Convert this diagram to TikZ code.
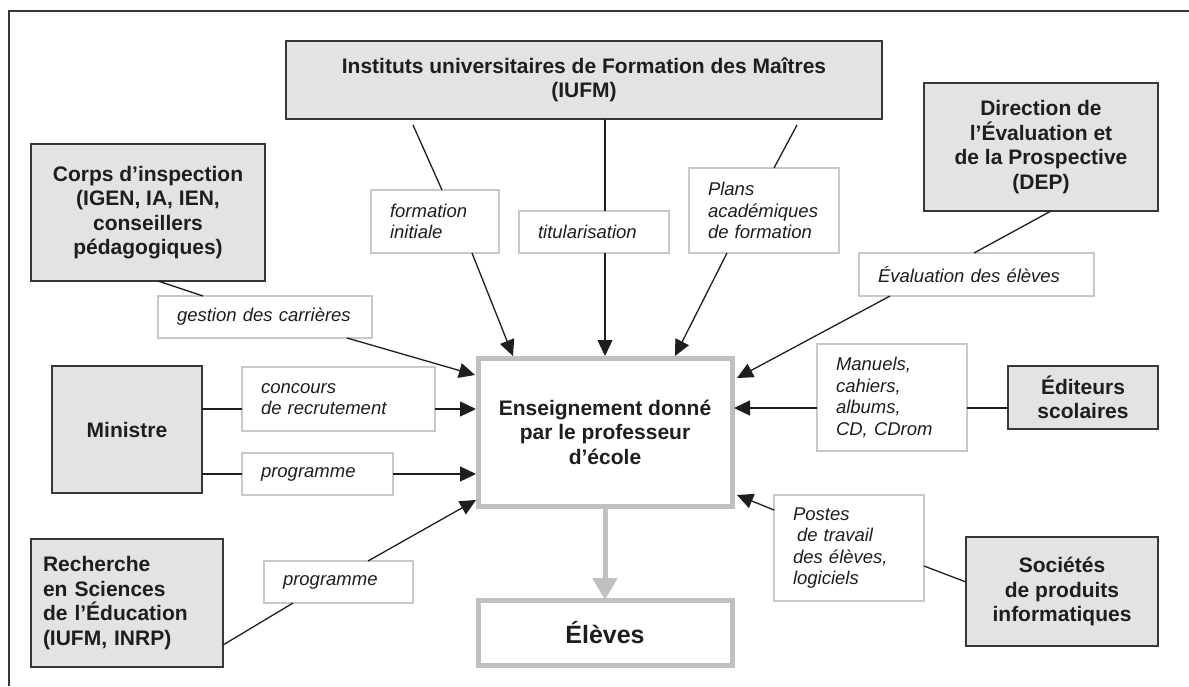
\documentclass[tikz,border=0pt]{standalone}
\usepackage{fontspec}
\setmainfont{Liberation Sans}
\usetikzlibrary{arrows.meta,calc}

\definecolor{boxgray}{RGB}{226,227,229}
\definecolor{edgegray}{RGB}{192,192,192}
\definecolor{tagedge}{RGB}{200,200,200}
\definecolor{framegray}{RGB}{55,55,55}
\definecolor{inkgray}{RGB}{30,30,30}

\begin{document}
\begin{tikzpicture}[x=1pt,y=-1pt,
	source/.style={draw=framegray,line width=1.6pt,fill=boxgray,text=inkgray,font=\bfseries\fontsize{21}{24.5}\selectfont,align=center,inner sep=0pt,outer sep=0pt},
	tag/.style={draw=tagedge,line width=1.4pt,fill=white,text=inkgray,font=\itshape\fontsize{18.5}{21.5}\selectfont,align=left,inner xsep=19pt,inner ysep=0pt,outer sep=0pt},
	core/.style={draw=edgegray,line width=5pt,fill=white,text=inkgray,font=\bfseries\fontsize{21}{24.5}\selectfont,align=center,inner sep=0pt,outer sep=0pt},
	link/.style={draw=inkgray,line width=1.3pt},
	feed/.style={link,-{Triangle[length=16pt,width=15pt]}}]
	\useasboundingbox (0,0) rectangle (1189,686);
	\draw [framegray,line width=1.5pt] (9,686) -- (9,11) -- (1189,11);

	\node [source,minimum width=596pt,minimum height=78pt] (iufm) at (584,80) {Instituts universitaires de Formation des Maîtres\\(IUFM)};
	\node [source,minimum width=234pt,minimum height=128pt] (dep) at (1041,147) {Direction de\\l’Évaluation et\\de la Prospective\\(DEP)};
	\node [source,minimum width=234pt,minimum height=137pt] (corps) at (148,212.5) {Corps d’inspection\\(IGEN, IA, IEN,\\conseillers\\pédagogiques)};
	\node [source,minimum width=150pt,minimum height=127pt] (ministre) at (127,429.5) {Ministre};
	\node [source,align=left,text width=168pt,inner xsep=12pt,minimum height=128pt] (recherche) at (127,603) {Recherche\\en Sciences\\de l’Éducation\\(IUFM, INRP)};
	\node [source,minimum width=150pt,minimum height=63pt] (editeurs) at (1083,397.5) {Éditeurs\\scolaires};
	\node [source,minimum width=192pt,minimum height=109pt] (societes) at (1062,591.5) {Sociétés\\de produits\\informatiques};

	\node [core,minimum width=254pt,minimum height=148pt] (core) at (605,432) {Enseignement donné\\par le professeur\\d’école};
	\node [core,minimum width=254pt,minimum height=65pt,font=\bfseries\fontsize{25}{30}\selectfont] (eleves) at (605,632.5) {Élèves};

	\node [tag,text width=176pt,minimum height=42pt] (gestion) at (265,317) {gestion des carrières};
	\node [tag,text width=90pt,minimum height=63pt] (fi) at (435,221.5) {formation\\initiale};
	\node [tag,text width=112pt,minimum height=42pt] (titul) at (594,232) {titularisation};
	\node [tag,text width=112pt,minimum height=85pt] (plans) at (764,210.5) {Plans\\académiques\\de formation};
	\node [tag,text width=197pt,minimum height=43pt] (eval) at (976.5,274.5) {Évaluation des élèves};
	\node [tag,text width=155pt,minimum height=64pt] (concours) at (338.5,399) {concours\\de recrutement};
	\node [tag,text width=113pt,minimum height=42pt] (prog) at (317.5,474) {programme};
	\node [tag,text width=111pt,minimum height=42pt] (progb) at (338.5,582) {programme};
	\node [tag,text width=112pt,minimum height=107pt] (manuels) at (892,397.5) {Manuels,\\cahiers,\\albums,\\CD, CDrom};
	\node [tag,text width=112pt,minimum height=106pt] (postes) at (849,548) {Postes\\\hspace*{4pt}de travail\\des élèves,\\logiciels};

	\draw [link] ($(corps.south west)+(127,0)$) -- ($(gestion.north west)+(45,0)$);
	\draw [feed] ($(gestion.south west)+(189,0)$) -- ($(core.north west)+(-3,17)$);
	\draw [link] ($(iufm.south west)+(127,6)$) -- ($(fi.north west)+(71,0)$);
	\draw [feed] ($(fi.south west)+(101,0)$) -- ($(core.north west)+(35,-2)$);
	\draw [link] ($(iufm.south)+(21,0)$) -- ($(titul.north west)+(86,0)$);
	\draw [feed] ($(titul.south west)+(86,0)$) -- ($(core.north)+(0,-2)$);
	\draw [link] ($(iufm.south east)+(-85,6)$) -- ($(plans.north west)+(85,0)$);
	\draw [feed] ($(plans.south west)+(38,0)$) -- ($(core.north east)+(-57,-2)$);
	\draw [link] ($(dep.south west)+(127,0)$) -- ($(eval.north west)+(115,0)$);
	\draw [feed] ($(eval.south west)+(31,0)$) -- ($(core.north east)+(5,20)$);

	\draw [link] ($(ministre.east)+(0,-20.5)$) -- ($(concours.west)+(0,10)$);
	\draw [feed] ($(concours.east)+(0,10)$) -- ($(core.west)+(-2,-23)$);
	\draw [link] ($(ministre.east)+(0,44.5)$) -- (prog.west);
	\draw [feed] (prog.east) -- ($(core.west)+(-2,42)$);
	\draw [link] ($(recherche.east)+(0,42)$) -- ($(progb.south west)+(29,0)$);
	\draw [feed] ($(progb.north west)+(104,0)$) -- ($(core.south west)+(-2,-6)$);

	\draw [link] ($(editeurs.west)+(0,10.5)$) -- ($(manuels.east)+(0,10.5)$);
	\draw [feed] ($(manuels.west)+(0,10.5)$) -- ($(core.east)+(2,-24)$);
	\draw [link] ($(societes.west)+(0,-9.5)$) -- ($(postes.east)+(0,18)$);
	\draw [feed] ($(postes.west)+(0,-38)$) -- ($(core.south east)+(5,-11)$);

	\draw [edgegray,line width=5pt,-{Triangle[length=22pt,width=24pt]}] (core.south) -- (eleves.north);
\end{tikzpicture}
\end{document}
